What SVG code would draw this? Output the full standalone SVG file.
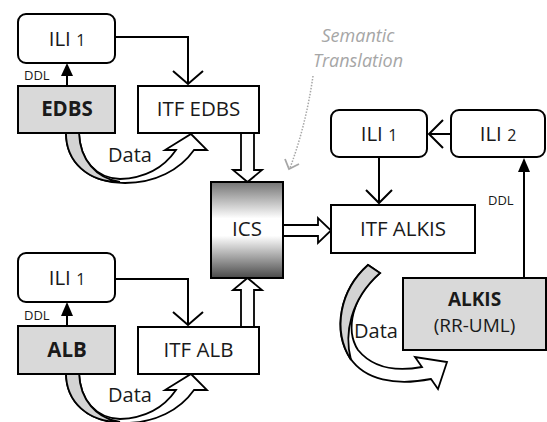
<svg xmlns="http://www.w3.org/2000/svg" width="547" height="422" viewBox="0 0 547 422">
  <style>
    .box { fill: #ffffff; stroke: #000; stroke-width: 2; }
    .gray { fill: #d9d9d9; stroke: #000; stroke-width: 2; }
    .line { fill: none; stroke: #000; stroke-width: 2; }
    .block { fill: #ffffff; stroke: #000; stroke-width: 1.8; stroke-linejoin: miter; }
    .bend { stroke: #000; stroke-width: 1.8; stroke-linejoin: miter; }
    text { font-family: "Open Sans", "DejaVu Sans", sans-serif; fill: #1a1a1a; }
    .lbl { font-size: 20.5px; text-anchor: middle; }
    .two { font-size: 19px; }
    .bold { font-weight: bold; }
    .small { font-size: 13px; }
    .data { font-size: 20px; }
    .note { font-size: 18px; font-style: italic; fill: #a6a6a6; text-anchor: middle; }
    .dig { font-size: 16px; }
  </style>
  <defs>
    <linearGradient id="icsFill" x1="0" y1="0" x2="0" y2="1">
      <stop offset="0" stop-color="#747474"/>
      <stop offset="0.38" stop-color="#ffffff"/>
      <stop offset="0.56" stop-color="#ffffff"/>
      <stop offset="1" stop-color="#4a4a4a"/>
    </linearGradient>
    <!-- bent data arrow under a source schema -->
    <g id="bentArrow">
      <path class="bend" fill="#ffffff" d="M66,133 C66,162 88,183 125,183 C155,183 180,170 194,150 L207,150 L191,134 L165,150 L176,150 C165,166 148,178 120,179 C96,178 80,160 79,133 Z"/>
      <path class="bend" fill="#d3d3d3" d="M66,133 C66,162 88,182 120,182 C96,178 80,160 79,133 Z"/>
    </g>
  </defs>

  <!-- connectors -->
  <g id="connectors">
    <!-- upper source: schema to transfer file -->
    <path class="line" d="M115,37 H188 V84"/>
    <path class="line" d="M173,71 L188,84 L203,71"/>
    <path class="line" d="M67,86 V74"/>
    <path d="M61,76 L67,63 L73,76 Z" fill="#000"/>
    <use href="#bentArrow"/>

    <!-- lower source -->
    <path class="line" d="M115,279 H188 V325"/>
    <path class="line" d="M173,312 L188,325 L203,312"/>
    <path class="line" d="M67,326 V314"/>
    <path d="M61,316 L67,302 L73,316 Z" fill="#000"/>
    <use href="#bentArrow" transform="translate(0,240)"/>

    <!-- transfer files into ICS -->
    <path class="block" d="M241,133 V170 H233 L247.5,182 L262,170 H254 V133"/>
    <path class="block" d="M241,327 V290 H233 L247.5,278 L262,290 H254 V327"/>
    <!-- ICS out to target transfer file -->
    <path class="block" d="M283,225 H318 V218 L331,230.5 L318,243 V236 H283"/>

    <!-- target side -->
    <path class="line" d="M451,134 H429"/>
    <path class="line" d="M443,120 L429,134 L443,148"/>
    <path class="line" d="M379,157 V203"/>
    <path class="line" d="M366,190 L379,203 L392,190"/>
    <path class="line" d="M524,278 V170"/>
    <path d="M518,172 L524,158 L530,172 Z" fill="#000"/>
    <path class="bend" fill="#ffffff" d="M368,265 C340,290 332,330 350,358 C365,380 395,386 431,379 L438,389 L447,362 L415,357 L422,367 C395,372 372,367 358,350 C345,330 352,296 380,273 Z"/>
    <path class="bend" fill="#d3d3d3" d="M368,265 C340,290 332,330 351,360 C344,334 350,300 380,273 Z"/>

    <!-- semantic translation hint -->
    <path d="M313,76 Q306,125 290,168" fill="none" stroke="#a6a6a6" stroke-width="1.5" stroke-dasharray="1.5 1.5"/>
    <path d="M285,159 L289,169 L299,164" fill="none" stroke="#a6a6a6" stroke-width="1.8"/>
  </g>

  <!-- upper source nodes -->
  <g id="ili1-edbs">
    <rect class="box" x="18" y="14" width="97" height="49" rx="8"/>
    <text class="lbl" x="67" y="46">ILI <tspan class="dig">1</tspan></text>
  </g>
  <g id="edbs">
    <rect class="gray" x="18" y="86" width="97" height="47"/>
    <text class="lbl bold" x="67" y="116">EDBS</text>
    <text class="small" x="24" y="80">DDL</text>
    <text class="data" x="108" y="162">Data</text>
  </g>
  <g id="itf-edbs">
    <rect class="box" x="138" y="86" width="121" height="47"/>
    <text class="lbl" x="198.5" y="116">ITF EDBS</text>
  </g>

  <!-- lower source nodes -->
  <g id="ili1-alb">
    <rect class="box" x="18" y="253" width="97" height="49" rx="8"/>
    <text class="lbl" x="67" y="285">ILI <tspan class="dig">1</tspan></text>
  </g>
  <g id="alb">
    <rect class="gray" x="18" y="326" width="97" height="48"/>
    <text class="lbl bold" x="67" y="357">ALB</text>
    <text class="small" x="24" y="320">DDL</text>
    <text class="data" x="108" y="402">Data</text>
  </g>
  <g id="itf-alb">
    <rect class="box" x="138" y="327" width="121" height="47"/>
    <text class="lbl" x="198.5" y="357">ITF ALB</text>
  </g>

  <!-- interlis compiler / converter -->
  <g id="ics">
    <rect x="211" y="182" width="72" height="96" fill="url(#icsFill)" stroke="#000" stroke-width="2"/>
    <text class="lbl" x="247" y="236">ICS</text>
  </g>

  <g id="semantic-note">
    <text class="note" x="358" y="42">Semantic</text>
    <text class="note" x="358" y="67">Translation</text>
  </g>

  <!-- target nodes -->
  <g id="ili1-alkis">
    <rect class="box" x="331" y="110" width="96" height="47" rx="8"/>
    <text class="lbl" x="379" y="141">ILI <tspan class="dig">1</tspan></text>
  </g>
  <g id="ili2-alkis">
    <rect class="box" x="451" y="110" width="94" height="47" rx="8"/>
    <text class="lbl" x="498" y="141">ILI <tspan class="dig">2</tspan></text>
  </g>
  <g id="itf-alkis">
    <rect class="box" x="331" y="205" width="144" height="48"/>
    <text class="lbl" x="403" y="236">ITF ALKIS</text>
  </g>
  <g id="alkis">
    <rect class="gray" x="403" y="278" width="143" height="72"/>
    <text class="lbl two bold" x="474.5" y="306">ALKIS</text>
    <text class="lbl two" x="474.5" y="332">(RR-UML)</text>
    <text class="small" x="488" y="205">DDL</text>
    <text class="data" x="354" y="338">Data</text>
  </g>
</svg>
